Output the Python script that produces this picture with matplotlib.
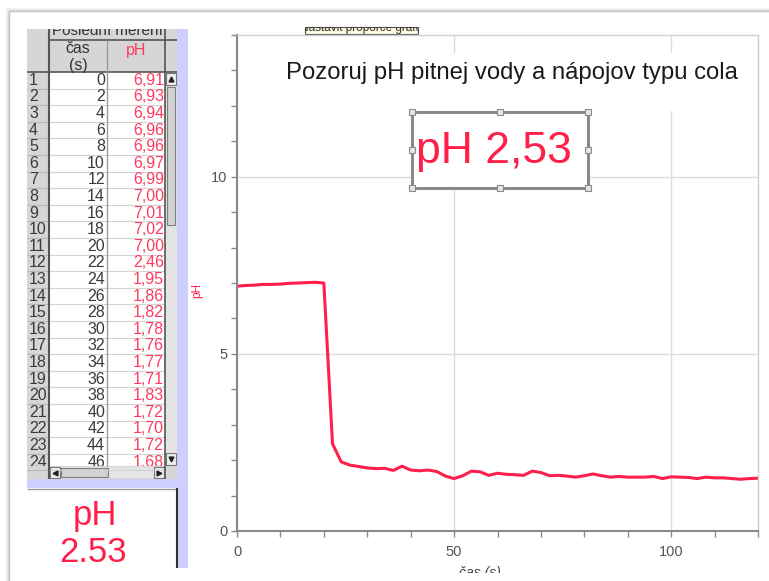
import matplotlib.pyplot as plt
from matplotlib.patches import Rectangle
from matplotlib.ticker import MultipleLocator, NullFormatter
from matplotlib.transforms import Bbox, TransformedBbox

# measured data (Logger Lite table + graph)
time_s = [0, 2, 4, 6, 8, 10, 12, 14, 16, 18, 20, 22, 24, 26, 28, 30, 32, 34, 36, 38,
          40, 42, 44, 46, 48, 50, 52, 54, 56, 58, 60, 62, 64, 66, 68, 70, 72, 74, 76, 78,
          80, 82, 84, 86, 88, 90, 92, 94, 96, 98, 100, 102, 104, 106, 108, 110, 112,
          114, 116, 118, 120]
ph = [6.91, 6.93, 6.94, 6.96, 6.96, 6.97, 6.99, 7.00, 7.01, 7.02, 7.00, 2.46, 1.95,
      1.86, 1.82, 1.78, 1.76, 1.77, 1.71, 1.83, 1.72, 1.70, 1.72, 1.68,
      1.55, 1.48, 1.56, 1.69, 1.67, 1.57, 1.63, 1.60, 1.59, 1.57, 1.69, 1.65, 1.56,
      1.57, 1.55, 1.52, 1.56, 1.61, 1.56, 1.52, 1.54, 1.52, 1.52, 1.52, 1.54, 1.48,
      1.53, 1.52, 1.51, 1.48, 1.52, 1.50, 1.50, 1.48, 1.46, 1.48, 1.49]
table_rows = 24
current_ph = 2.53

title = "Pozoruj pH pitnej vody a nápojov typu cola"
table_title = "Poslední měření"
col_time = "čas\n(s)"
col_ph = "pH"
x_label = "čas (s)"
y_label = "pH"

RED = '#ff1f4b'
W, H = 769, 581

plt.rcParams['font.family'] = ['Liberation Sans', 'DejaVu Sans']
fig = plt.figure(figsize=(W / 100, H / 100), dpi=100)

# background canvas in pixel coordinates
cv = fig.add_axes([0, 0, 1, 1], zorder=0)
cv.set_xlim(0, W)
cv.set_ylim(H, 0)
cv.axis('off')


def rect(ax, x0, y0, x1, y1, **kw):
    r = Rectangle((x0, y0), x1 - x0, y1 - y0, **kw)
    ax.add_patch(r)
    return r


def hline(ax, y, x0, x1, **kw):
    ax.plot([x0, x1], [y, y], solid_capstyle='butt', **kw)


def vline(ax, x, y0, y1, **kw):
    ax.plot([x, x], [y0, y1], solid_capstyle='butt', **kw)


def clipbox(ax, x0, y0, x1, y1):
    # Agg clips text only to rectangles, so use a clip box in display coords
    return TransformedBbox(Bbox.from_extents(x0, y0, x1, y1), ax.transData)


# outer window frame with soft shadow
for i, c in enumerate(['#f4f4f4', '#ebebeb', '#dedede', '#c4c4c4']):
    hline(cv, 8 + i, 6 + i, W, color=c, lw=1)
    vline(cv, 6 + i, 8 + i, H, color=c, lw=1)

# table block
rect(cv, 27, 29, 177, 479, facecolor='#d6d6d6', edgecolor='none')
rect(cv, 49, 72, 165, 466, facecolor='white', edgecolor='none')
rect(cv, 177, 29, 188, 568, facecolor='#cfcfff', edgecolor='none')
rect(cv, 27, 479, 188, 488, facecolor='#cfcfff', edgecolor='none')

row_h = 16.6
row0 = 72
body_clip = clipbox(cv, 27, row0, 165, 466)
for i in range(table_rows):
    yc = row0 + row_h * (i + 0.5)
    yb = row0 + row_h * (i + 1)
    hline(cv, yb, 49, 165, color='#d2d2d2', lw=0.8)
    hline(cv, yb, 27, 49, color='#b8b8b8', lw=0.8)
    t1 = cv.text(29, yc, str(i + 1), ha='left', va='center', fontsize=11.5,
                 color='#3a3a3a')
    t2 = cv.text(105, yc, str(time_s[i]), ha='right', va='center', fontsize=11.5,
                 color='#3a3a3a')
    t3 = cv.text(164, yc, f"{ph[i]:.2f}".replace('.', ','), ha='right', va='center',
                 fontsize=11.5, color='#ff3a5e')
    for t in (t1, t2, t3):
        t.set_clip_box(body_clip)
        t.set_clip_on(True)

# header
hline(cv, 40, 49, 177, color='#555555', lw=1.2)
hline(cv, 72, 27, 177, color='#555555', lw=1.2)
vline(cv, 49, 29, 479, color='#555555', lw=1.5)
vline(cv, 107, 40, 466, color='#9a9a9a', lw=1)
vline(cv, 165, 29, 479, color='#555555', lw=1.2)
th = cv.text(107, 31, table_title, ha='center', va='center', fontsize=11,
             color='#333333')
th.set_clip_box(clipbox(cv, 49, 29, 165, 40))
th.set_clip_on(True)
cv.text(78, 57, col_time, ha='center', va='center', fontsize=11.5,
        color='#333333', linespacing=1.1)
cv.text(136, 50, col_ph, ha='center', va='center', fontsize=11.5, color='#ff3a5e')

# vertical scrollbar
rect(cv, 165, 72, 177, 466, facecolor='#e4e4e4', edgecolor='none')
rect(cv, 166, 73, 176, 85, facecolor='#eeeeee', edgecolor='#777777', lw=0.8)
rect(cv, 166, 453, 176, 465, facecolor='#eeeeee', edgecolor='#777777', lw=0.8)
rect(cv, 167, 87, 175, 225, facecolor='#d2d2d2', edgecolor='#808080', lw=0.8)
cv.plot([171], [79], marker='^', ms=3.5, color='#222222')
cv.plot([171], [459], marker='v', ms=3.5, color='#222222')
# horizontal scrollbar
rect(cv, 49, 467, 165, 478, facecolor='#e4e4e4', edgecolor='none')
rect(cv, 50, 467, 60, 478, facecolor='#eeeeee', edgecolor='#777777', lw=0.8)
rect(cv, 154, 467, 164, 478, facecolor='#eeeeee', edgecolor='#777777', lw=0.8)
rect(cv, 61, 468, 108, 477, facecolor='#d2d2d2', edgecolor='#808080', lw=0.8)
cv.plot([55], [472.5], marker='<', ms=3.5, color='#222222')
cv.plot([159], [472.5], marker='>', ms=3.5, color='#222222')

# meter panel
rect(cv, 27, 488, 177, 570, facecolor='white', edgecolor='none')
hline(cv, 488.5, 27, 177, color='#9a9a9a', lw=1)
vline(cv, 177, 488, 568, color='#333333', lw=1.5)
cv.text(95, 515, 'pH', ha='center', va='center', fontsize=25, color=RED)
cv.text(93, 553, f"{current_ph:.2f}", ha='center', va='center', fontsize=25, color=RED)

# small button above the graph (cut off at the top)
rect(cv, 305, 27, 418, 34, facecolor='#fffbe0', edgecolor='#555555', lw=0.8)
tb = cv.text(361, 27.5, 'Nastavit proporce grafu', ha='center', va='center',
             fontsize=8.5, color='#333333')
tb.set_clip_box(clipbox(cv, 305, 27, 418, 34))
tb.set_clip_on(True)

# chart
ax = fig.add_axes([237 / W, 1 - 531 / H, (758 - 237) / W, (531 - 35) / H], zorder=1)
ax.plot(time_s, ph, color=RED, lw=2.2, solid_joinstyle='round')
ax.set_xlim(0, 120)
ax.set_ylim(0, 14)
ax.xaxis.set_major_locator(MultipleLocator(50))
ax.xaxis.set_minor_locator(MultipleLocator(10))
ax.yaxis.set_major_locator(MultipleLocator(5))
ax.yaxis.set_minor_locator(MultipleLocator(1))
ax.xaxis.set_minor_formatter(NullFormatter())
ax.yaxis.set_minor_formatter(NullFormatter())
ax.grid(True, which='major', color='#dcdcdc', lw=1)
ax.set_axisbelow(True)
for s in ['left', 'bottom']:
    ax.spines[s].set_color('#8a8a8a')
    ax.spines[s].set_linewidth(1.5)
for s in ['top', 'right']:
    ax.spines[s].set_color('#d0d0d0')
    ax.spines[s].set_linewidth(1)
ax.tick_params(which='both', direction='out', length=4, width=1, color='#8a8a8a',
               labelcolor='#555555', labelsize=10.5)
ax.tick_params(axis='x', pad=6)
ax.tick_params(axis='y', pad=3)
ax.set_ylabel(y_label, color=RED, fontsize=8.5)
ax.yaxis.set_label_coords((203 - 237) / 521, (531 - 290) / 496)
ax.set_xlabel(x_label, color='#444444', fontsize=10, fontstyle='italic')
ax.xaxis.set_label_coords((480 - 237) / 521, (531 - 566) / 496)

# overlay: title and value box
ov = fig.add_axes([0, 0, 1, 1], zorder=2)
ov.set_xlim(0, W)
ov.set_ylim(H, 0)
ov.axis('off')
rect(ov, 262, 53, 757, 111, facecolor='white', edgecolor='none')
ov.text(512, 73, title, ha='center', va='center', fontsize=17.2, color='#1a1a1a')
rect(ov, 412, 112, 588, 188, facecolor='white', edgecolor='#8a8a8a', lw=2.2)
for hx in (412, 500, 588):
    for hy in (112, 150, 188):
        if hx == 500 and hy == 150:
            continue
        rect(ov, hx - 3, hy - 3, hx + 3, hy + 3, facecolor='#e6e6e6',
             edgecolor='#8a8a8a', lw=0.8)
ov.text(494, 151, f"pH {current_ph:.2f}".replace('.', ','), ha='center', va='center',
        fontsize=32, color=RED)
# the bottom of the axis title is cut off in the screenshot
rect(ov, 400, 573, 560, H, facecolor='white', edgecolor='none')

fig.savefig('out.png', dpi=100)
